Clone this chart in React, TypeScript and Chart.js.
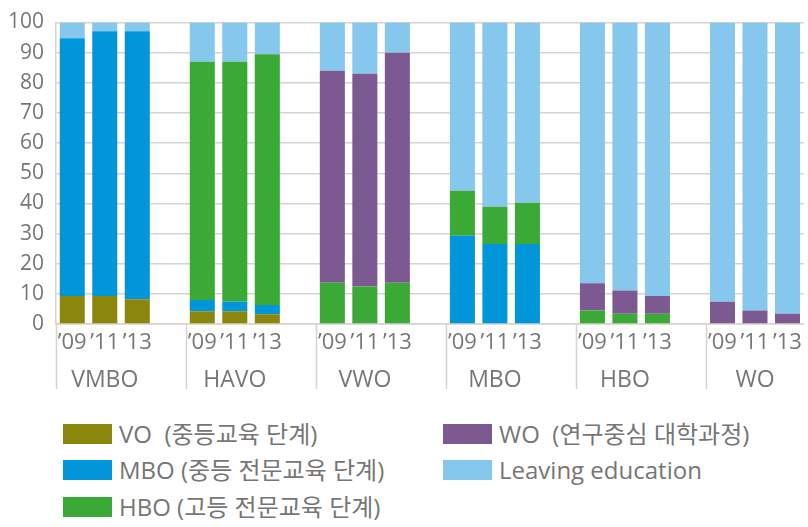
import React, { useEffect, useRef } from "react";
import { Chart, registerables } from "chart.js";
Chart.register(...registerables);

const groups = ["VMBO", "HAVO", "VWO", "MBO", "HBO", "WO"];
const years = ["’09", "’11", "’13"];
// values in group order (VMBO, HAVO, VWO, MBO, HBO, WO) x years ('09, '11, '13)
const voVals = [9.3, 9.3, 8.2, 4.2, 4.2, 3.2, 0, 0, 0, 0, 0, 0, 0, 0, 0, 0, 0, 0];
const mboVals = [85.5, 87.8, 88.9, 3.8, 3.2, 3.1, 0, 0, 0, 29.3, 26.5, 26.5, 0, 0, 0, 0, 0, 0];
const hboVals = [0, 0, 0, 79.0, 79.6, 83.2, 13.7, 12.4, 13.7, 14.9, 12.4, 13.7, 4.5, 3.4, 3.4, 0, 0, 0];
const woVals = [0, 0, 0, 0, 0, 0, 70.3, 70.6, 76.3, 0, 0, 0, 9.0, 7.7, 5.9, 7.4, 4.5, 3.4];
const leavingVals = [5.2, 2.9, 2.9, 13.0, 13.0, 10.5, 16.0, 17.0, 10.0, 55.8, 61.1, 59.8, 86.5, 88.9, 90.7, 92.6, 95.5, 96.6];
const yTicks = [0, 10, 20, 30, 40, 50, 60, 70, 80, 90, 100];

const seriesNames = ["VO", "MBO", "HBO", "WO", "Leaving education"];
const legendLabels = [
  "VO\u00a0\u00a0(중등교육 단계)",
  "MBO (중등 전문교육 단계)",
  "HBO (고등 전문교육 단계)",
  "WO\u00a0\u00a0(연구중심 대학과정)",
  "Leaving education",
];
const colors = ["#8a870c", "#0096d9", "#3aa935", "#7c5a91", "#86c7ee"];

const TEXT = "#767676";
const GRID = "#d9d2ce";
const FONT = "'Open Sans', 'Noto Sans CJK KR', sans-serif";

// expand 18 values into 23 slots (3 bars + spacer per group, no trailing spacer)
function toSlots<T>(vals: T[], spacer: T): T[] {
  const out: T[] = [];
  groups.forEach((_, g) => {
    for (let y = 0; y < 3; y++) out.push(vals[g * 3 + y]);
    if (g < groups.length - 1) out.push(spacer);
  });
  return out;
}

const groupPlugin = {
  id: "groupLabels",
  afterDraw(chart: any) {
    const { ctx, chartArea } = chart;
    const x = chart.scales.x;
    const slot = x.getPixelForValue(1) - x.getPixelForValue(0);
    ctx.save();
    ctx.strokeStyle = GRID;
    ctx.lineWidth = 1.5;
    ctx.fillStyle = TEXT;
    ctx.font = `23px ${FONT}`;
    ctx.textAlign = "center";
    ctx.textBaseline = "middle";
    groups.forEach((g, k) => {
      const start = Math.round(x.getPixelForValue(4 * k) - slot / 2) + 0.5;
      ctx.beginPath();
      ctx.moveTo(start, chartArea.bottom);
      ctx.lineTo(start, 389);
      ctx.stroke();
      ctx.fillText(g, x.getPixelForValue(4 * k + 1), 380);
    });
    ctx.restore();
  },
};

export default function App() {
  const ref = useRef<HTMLCanvasElement>(null);
  useEffect(() => {
    const labels = toSlots(
      groups.flatMap(() => years),
      ""
    );
    const seriesVals = [voVals, mboVals, hboVals, woVals, leavingVals];
    const chart = new Chart(ref.current!, {
      type: "bar",
      data: {
        labels,
        datasets: seriesNames.map((name, i) => ({
          label: name,
          data: toSlots<number | null>(seriesVals[i], null),
          backgroundColor: colors[i],
          borderWidth: 0,
          barPercentage: 0.77,
          categoryPercentage: 1,
        })),
      },
      options: {
        animation: false,
        responsive: false,
        maintainAspectRatio: false,
        layout: { padding: { top: 11, right: 3, left: 0, bottom: 0 } },
        plugins: { legend: { display: false }, tooltip: { enabled: false } },
        scales: {
          x: {
            stacked: true,
            grid: { display: false, drawTicks: false },
            border: { display: true, color: GRID, width: 1.5 },
            ticks: {
              color: TEXT,
              font: { family: FONT, size: 22, lineHeight: 1.2 },
              padding: 6,
              maxRotation: 0,
              autoSkip: false,
            },
            afterFit: (s: any) => {
              s.height = 76;
            },
          },
          y: {
            stacked: true,
            min: 0,
            max: 100,
            afterBuildTicks: (s: any) => {
              s.ticks = yTicks.map((v) => ({ value: v }));
            },
            grid: { color: GRID, lineWidth: 1.5, drawTicks: false },
            border: { display: true, color: GRID, width: 1.5 },
            ticks: {
              color: TEXT,
              font: { family: FONT, size: 21, lineHeight: 1 },
              padding: 12,
            },
            afterFit: (s: any) => {
              s.width = 56;
            },
          },
        },
      },
      plugins: [groupPlugin],
    });
    return () => chart.destroy();
  }, []);

  const legendPos = [
    { bx: 63, ty: 434 },
    { bx: 63, ty: 470 },
    { bx: 63, ty: 507 },
    { bx: 443, ty: 434 },
    { bx: 443, ty: 470 },
  ];

  return (
    <div
      style={{
        position: "fixed",
        left: 0,
        top: 0,
        width: 808,
        height: 527,
        background: "#fff",
        overflow: "hidden",
        fontFamily: FONT,
      }}
    >
      <canvas ref={ref} width={808} height={400} style={{ position: "absolute", left: 0, top: 0 }} />
      {legendLabels.map((lab, i) => (
        <React.Fragment key={i}>
          <div
            style={{
              position: "absolute",
              left: legendPos[i].bx,
              top: legendPos[i].ty - 10,
              width: 49,
              height: 20,
              background: colors[i],
            }}
          />
          <div
            style={{
              position: "absolute",
              left: legendPos[i].bx + 56,
              top: legendPos[i].ty - 16,
              height: 32,
              lineHeight: "32px",
              fontSize: 24,
              color: TEXT,
              whiteSpace: "pre",
            }}
          >
            {lab}
          </div>
        </React.Fragment>
      ))}
    </div>
  );
}
